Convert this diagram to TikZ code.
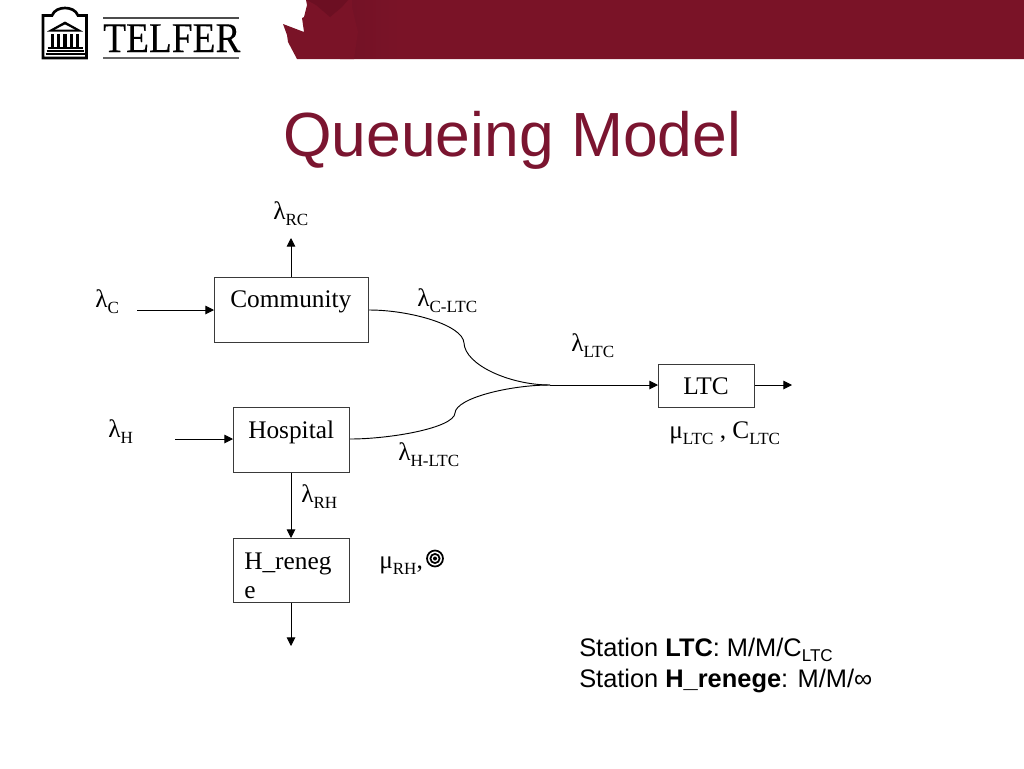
\documentclass[tikz,border=0pt]{standalone}
\usepackage{fontspec}
\setmainfont{Liberation Serif}
\newfontfamily\arialf{Liberation Sans}
\newfontfamily\logof[FakeStretch=0.885,FakeBold=0.15]{Liberation Serif}
\usetikzlibrary{arrows.meta}
\definecolor{wine}{HTML}{7A1327}
\definecolor{winedark}{HTML}{741226}
\definecolor{winedeep}{HTML}{6C0F22}
\definecolor{titlered}{HTML}{7B1530}
\definecolor{boxline}{HTML}{3A3A3A}
\tikzset{
 flowbox/.style={draw=boxline,line width=0.8pt,fill=white,inner sep=0pt,anchor=north west},
 lab/.style={font=\fontsize{19}{22}\selectfont,inner sep=0pt,anchor=base west,text=black},
 flow/.style={draw=black,line width=0.7pt,-{Triangle[length=6.5pt,width=6.5pt]}},
 plainflow/.style={draw=black,line width=0.7pt},
 stn/.style={font=\arialf\fontsize{19.05}{22}\selectfont,inner sep=0pt,anchor=base west,text=black},
 logoline/.style={draw=black,line width=1.2pt}
}
\newcommand{\sbs}[1]{\raisebox{-0.26em}{\fontsize{12.8}{14}\selectfont #1}}
\begin{document}
\begin{tikzpicture}[x=0.75pt,y=-0.75pt]
\useasboundingbox (0,0) rectangle (1024,768);
% header band
\fill[wine] (306,0) -- (307,5) -- (304,17) -- (302,18) -- (304,32) -- (283,24) -- (287,35) -- (288,42) -- (297,59) -- (1024,59) -- (1024,0) -- cycle;
\shade[left color=winedark,right color=wine] (352,0) rectangle (400,58.6);
\fill[wine] (340,0) -- (352,7) -- (358,32) -- (354,59) -- (340,59) -- cycle;
\fill[winedeep] (307,0) -- (316,5) -- (330,17) -- (342,7) -- (348,0) -- cycle;
% logo
\draw[line width=2pt,line join=miter] (43,58) -- (43,15.5) -- (52,15.5) .. controls (54,10) and (60,8) .. (65,8) .. controls (70,8) and (76,10) .. (78,15.5) -- (86.5,15.5) -- (86.5,58) -- cycle;
\fill (65,21.5) -- (83,31.5) -- (47,31.5) -- cycle;
\fill[white] (65,24.5) -- (75,29.7) -- (55,29.7) -- cycle;
\foreach \xx in {50.5,56.5,63,69.5,75.5}{\fill (\xx,33.5) rectangle ++(3.6,13);}
\draw[logoline] (47.5,48) -- (82.5,48);
\draw[logoline,line width=0.8pt] (46.5,51) -- (83.5,51);
\draw[logoline,line width=0.8pt] (45.5,54) -- (84.5,54);
\draw[line width=0.8pt,draw=black!70] (103,18) -- (239,18);
\node[font=\logof\fontsize{31.7}{33}\selectfont,inner sep=0pt,anchor=base west] (telfer) at (103,52) {TELFER};
\draw[line width=1.4pt,draw=black!60] (103,58) -- (239,58);
% title
\node[font=\arialf\fontsize{46.8}{50}\selectfont,text=titlered,inner sep=0pt,anchor=base west] (title) at (283,156) {Queueing Model};
% boxes
\node[flowbox,minimum width=115.5pt,minimum height=48.75pt] (comm) at (214,277) {};
\node[flowbox,minimum width=87pt,minimum height=48.75pt] (hosp) at (233,407) {};
\node[flowbox,minimum width=72pt,minimum height=32.25pt] (ltc) at (658,364) {};
\node[flowbox,minimum width=87pt,minimum height=48pt] (hren) at (233,538) {};
% box texts
\node[lab] (tcomm) at (230,307) {Community};
\node[lab] (thosp) at (248,438) {Hospital};
\node[lab] (tltc) at (683,394) {LTC};
\node[lab] (thren1) at (244,569) {H\_reneg};
\node[lab] (thren2) at (244,598) {e};
% free ends
\coordinate (cin) at (137,310);
\coordinate (hin) at (175,439);
\coordinate (rcout) at (291,238);
\coordinate (hrout) at (291,646);
\coordinate (ltcout) at (792,385);
\coordinate (merge) at (550,385);
% connectors
\draw[flow] (cin) -- (comm.west |- cin);
\draw[flow] (hin) -- (hosp.west |- hin);
\draw[flow] (comm.north -| rcout) -- (rcout);
\draw[flow] (hosp.south -| hrout) -- (hren.north -| hrout);
\draw[flow] (hren.south -| hrout) -- (hrout);
\draw[flow] (ltc.east |- ltcout) -- (ltcout);
\draw[plainflow] (comm.east |- cin) .. controls (410,310) and (463,325) .. (464,343) .. controls (465,365) and (510,385) .. (merge);
\draw[plainflow] (hosp.east |- hin) .. controls (390,439) and (454,428) .. (455,413) .. controls (456,398) and (510,385) .. (merge);
\draw[flow] (merge) -- (ltc.west |- merge);
% labels
\node[lab] (lrc) at (273,219) {λ\sbs{RC}};
\node[lab] (lc) at (95,307) {λ\sbs{C}};
\node[lab] (lcltc) at (417,306) {λ\sbs{C-LTC}};
\node[lab] (lltc) at (571,351) {λ\sbs{LTC}};
\node[lab] (lh) at (108,437) {λ\sbs{H}};
\node[lab] (lhltc) at (398,460) {λ\sbs{H-LTC}};
\node[lab] (lrh) at (301,502) {λ\sbs{RH}};
\node[lab] (mltc) at (669,438) {μ\sbs{LTC} , C\sbs{LTC}};
\node[lab] (mrh) at (379,568) {μ\sbs{RH},};
% target symbol
\coordinate (tgt) at (435,558.5);
\draw[line width=1.3pt] (tgt) circle[radius=8];
\draw[line width=1.3pt] (tgt) circle[radius=4.6];
\fill (tgt) circle[radius=2];
% station text
\node[stn] (st1) at (579,656) {Station \textbf{LTC}: M/M/C\raisebox{-0.2em}{\fontsize{12.8}{14}\selectfont LTC}};
\node[stn] (st2) at (579,687) {Station \textbf{H\_renege}: M/M/∞};
\end{tikzpicture}
\end{document}
